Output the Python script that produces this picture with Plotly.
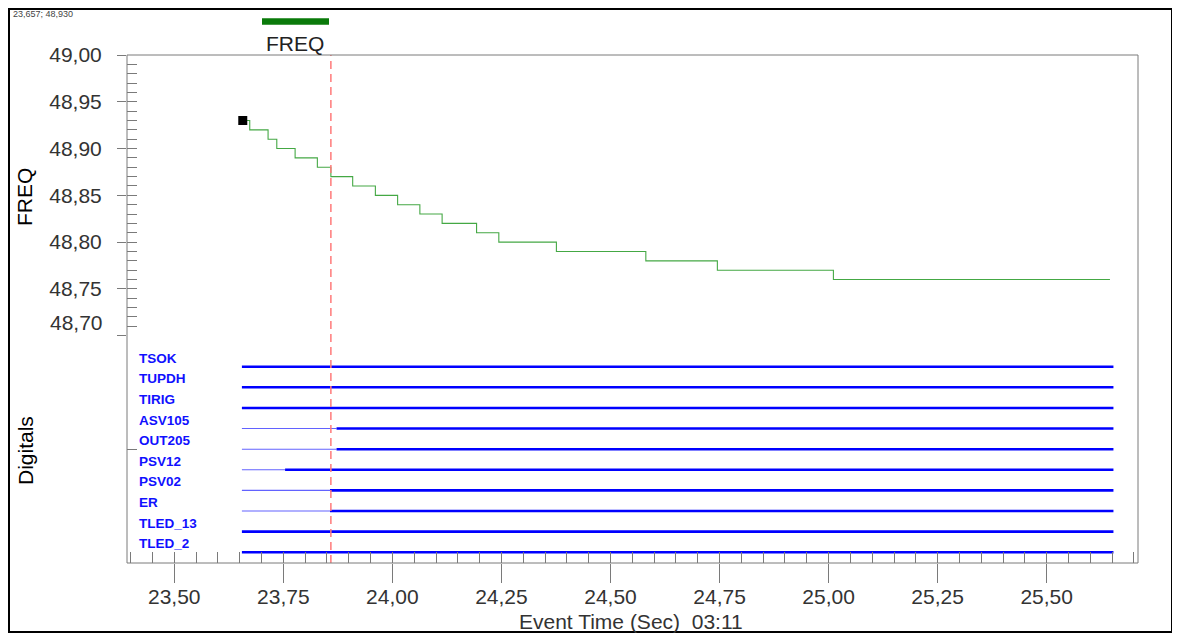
import plotly.graph_objects as go
import numpy as np

# ---------------- data ----------------
freq_t = [23.657, 23.673, 23.715, 23.735, 23.777, 23.828, 23.859, 23.909, 23.961,
          24.012, 24.063, 24.114, 24.193, 24.244, 24.376, 24.581, 24.745, 25.011, 25.645]
freq_v = [48.93, 48.92, 48.91, 48.90, 48.89, 48.88, 48.87, 48.86, 48.85,
          48.84, 48.83, 48.82, 48.81, 48.80, 48.79, 48.78, 48.77, 48.76, 48.76]
marker_t = 23.657
marker_v = 48.930
cursor_t = 23.859

dig_names = ["TSOK", "TUPDH", "TIRIG", "ASV105", "OUT205", "PSV12", "PSV02", "ER", "TLED_13", "TLED_2"]
dig_t0 = 23.655
dig_t1 = 25.653
dig_init = [1, 1, 1, 0, 0, 0, 0, 0, 1, 1]
dig_change = [None, None, None, 23.872, 23.872, 23.754, 23.857, 23.857, None, None]

x_tick_vals = [23.50, 23.75, 24.00, 24.25, 24.50, 24.75, 25.00, 25.25, 25.50]
x_tick_text = ["23,50", "23,75", "24,00", "24,25", "24,50", "24,75", "25,00", "25,25", "25,50"]
y_tick_vals = [48.70, 48.75, 48.80, 48.85, 48.90, 48.95, 49.00]
y_tick_text = ["48,70", "48,75", "48,80", "48,85", "48,90", "48,95", "49,00"]

x_title = "Event Time (Sec)\u00a0\u00a003:11"
freq_title = "FREQ"
dig_title = "Digitals"

# ---------------- layout geometry ----------------
# The page body has an 8px margin, so the figure is placed at (8, 8) in the window.
OFF = 8
W, H = 1180 - OFF, 636 - OFF
L, T = 127 - OFF, 55 - OFF
R = W - (1138 - OFF)
B = H - (563 - OFF)
pw, ph = W - L - R, H - T - B


def px(x):  # window pixel -> paper
    return (x - 127) / pw


def py(y):  # window pixel -> paper
    return (563 - y) / ph


split = py(335.7)
x_range = [23.3916, 25.7093]
ch_px = 20.62
dig_lo = -(563 - 366.7) / ch_px
dig_hi = dig_lo + (563 - 335.7) / ch_px

FONT = "Liberation Sans, Arial, sans-serif"
GRAY = "#7a7a7a"
TXT = "#333333"
CLEAR = "rgba(0,0,0,0)"

fig = go.Figure()

# FREQ stepped line
fig.add_trace(go.Scatter(x=freq_t, y=freq_v, mode="lines",
                         line=dict(shape="hv", color="#44a844", width=1.1),
                         xaxis="x", yaxis="y", hoverinfo="skip", showlegend=False))
fig.add_trace(go.Scatter(x=[marker_t], y=[marker_v], mode="markers",
                         marker=dict(symbol="square", size=9, color="black"),
                         xaxis="x", yaxis="y", hoverinfo="skip", showlegend=False, cliponaxis=False))

# digital channels
for i, name in enumerate(dig_names):
    yv = -i
    if dig_change[i] is None:
        segs = [(dig_t0, dig_t1, dig_init[i])]
    else:
        segs = [(dig_t0, dig_change[i], dig_init[i]), (dig_change[i], dig_t1, 1 - dig_init[i])]
    for a, b, s in segs:
        if s == 1:
            ln = dict(color="#0000ff", width=2.6)
        else:
            ln = dict(color="rgba(70,70,255,0.85)", width=1.1)
        fig.add_trace(go.Scatter(x=[a, b], y=[yv, yv], mode="lines", line=ln,
                                 xaxis="x", yaxis="y2", hoverinfo="skip", showlegend=False))
    fig.add_annotation(x=px(137), xref="paper", y=yv, yref="y2", yshift=8.5,
                       text=name, showarrow=False, xanchor="left", yanchor="middle",
                       font=dict(family=FONT, size=13.5, color="#1010ff", weight="bold"))

# invisible anchor traces that activate the overlay axes (ticks / labels)
fig.add_trace(go.Scatter(x=[dig_t0], y=[0], mode="markers", marker=dict(opacity=0),
                         xaxis="x2", yaxis="y2", hoverinfo="skip", showlegend=False))
fig.add_trace(go.Scatter(x=[dig_t0], y=[0], mode="markers", marker=dict(opacity=0),
                         xaxis="x3", yaxis="y2", hoverinfo="skip", showlegend=False))
fig.add_trace(go.Scatter(x=[freq_t[0]], y=[freq_v[0]], mode="markers", marker=dict(opacity=0),
                         xaxis="x", yaxis="y3", hoverinfo="skip", showlegend=False))
fig.add_trace(go.Scatter(x=[freq_t[0]], y=[freq_v[0]], mode="markers", marker=dict(opacity=0),
                         xaxis="x", yaxis="y4", hoverinfo="skip", showlegend=False))

x_minor = [round(v, 2) for v in np.arange(23.40, 25.701, 0.05)]
y_minor = [round(v, 2) for v in np.arange(48.70, 49.001, 0.01)]

common = dict(showgrid=False, zeroline=False, showline=False, tickmode="array")

fig.update_layout(
    width=W, height=H,
    margin=dict(l=L, r=R, t=T, b=B),
    paper_bgcolor="white", plot_bgcolor="white",
    showlegend=False,
    # major x ticks (crossing below the axis)
    xaxis=dict(domain=[0, 1], range=x_range, anchor="y2", tickvals=x_tick_vals,
               ticks="outside", ticklen=19, tickcolor=GRAY, tickwidth=1,
               showticklabels=False, **common),
    # minor x ticks (inside)
    xaxis2=dict(overlaying="x", anchor="y2", side="bottom", range=x_range, tickvals=x_minor,
                ticks="inside", ticklen=11, tickcolor=GRAY, tickwidth=1,
                showticklabels=False, **common),
    # x tick labels
    xaxis3=dict(overlaying="x", anchor="y2", side="bottom", range=x_range,
                tickvals=x_tick_vals, ticktext=x_tick_text,
                ticks="outside", ticklen=15, tickcolor=CLEAR,
                tickfont=dict(family=FONT, size=21, color=TXT), **common),
    # major y ticks
    yaxis=dict(domain=[split, 1], range=[48.70, 49.00], anchor="x", tickvals=y_tick_vals,
               ticks="outside", ticklen=9, tickcolor=GRAY, tickwidth=1,
               showticklabels=False, **common),
    # minor y ticks
    yaxis3=dict(overlaying="y", anchor="x", side="left", range=[48.70, 49.00],
                tickvals=y_minor, ticks="inside", ticklen=10, tickcolor=GRAY, tickwidth=1,
                showticklabels=False, **common),
    # y tick labels (48,70 drawn separately, slightly raised as in the original)
    yaxis4=dict(overlaying="y", anchor="x", side="left", range=[48.70, 49.00],
                tickvals=y_tick_vals[1:], ticktext=y_tick_text[1:],
                ticks="outside", ticklen=20, tickcolor=CLEAR,
                tickfont=dict(family=FONT, size=21, color=TXT), **common),
    # digitals band
    yaxis2=dict(domain=[0, split], range=[dig_lo, dig_hi], anchor="x",
                tickvals=[(dig_lo + dig_hi) / 2], ticks="inside", ticklen=10,
                tickcolor=GRAY, tickwidth=1, showticklabels=False, **common),
)

fig.add_annotation(x=0, xref="paper", y=y_tick_vals[0], yref="y", yshift=13, xshift=-22,
                   text=y_tick_text[0], showarrow=False, xanchor="right", yanchor="middle",
                   font=dict(family=FONT, size=21, color=TXT))

# axis titles
fig.add_annotation(x=px(25), xref="paper", y=py(197), yref="paper", text=freq_title,
                   textangle=-90, showarrow=False, xanchor="center", yanchor="middle",
                   font=dict(family=FONT, size=21, color="black"))
fig.add_annotation(x=px(25), xref="paper", y=py(451), yref="paper", text=dig_title,
                   textangle=-90, showarrow=False, xanchor="center", yanchor="middle",
                   font=dict(family=FONT, size=21, color="black"))
fig.add_annotation(x=px(631), xref="paper", y=py(621.5), yref="paper", text=x_title,
                   showarrow=False, xanchor="center", yanchor="middle",
                   font=dict(family=FONT, size=21, color=TXT))

# legend: green bar + label
fig.add_shape(type="line", xref="paper", yref="paper", x0=px(262), x1=px(329),
              y0=py(21.5), y1=py(21.5), line=dict(color="#0a7a0a", width=6.5))
fig.add_annotation(x=px(295), xref="paper", y=py(43), yref="paper", text=freq_title,
                   showarrow=False, xanchor="center", yanchor="middle",
                   font=dict(family=FONT, size=21, color="#222222"))

# cursor readout
fig.add_annotation(x=px(11), xref="paper", y=py(14), yref="paper", xanchor="left",
                   yanchor="middle",
                   text=f"{marker_t:.3f}; {marker_v:.3f}".replace(".", ","),
                   showarrow=False, font=dict(family=FONT, size=9, color="#444444"))

# cursor line
fig.add_shape(type="line", xref="x", yref="paper", x0=cursor_t, x1=cursor_t, y0=0, y1=1,
              line=dict(color="#ff7a7a", width=1.5, dash="8px,5px"))

# plot frame
fig.add_shape(type="rect", xref="paper", yref="paper", x0=0, x1=1, y0=0, y1=1,
              line=dict(color=GRAY, width=1))
# outer black border (kept inside the figure canvas)
fig.add_shape(type="rect", xref="paper", yref="paper", x0=px(9), x1=px(1172),
              y0=py(632), y1=py(9), line=dict(color="black", width=2))

fig.write_html("out.html")
